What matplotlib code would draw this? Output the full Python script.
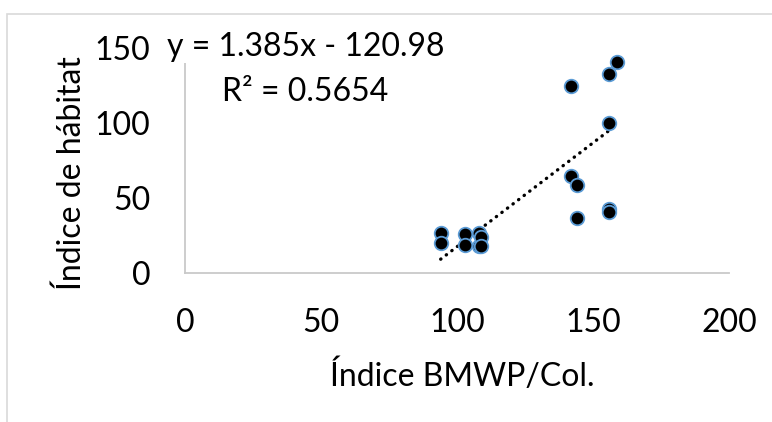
import matplotlib
matplotlib.use("Agg")
import matplotlib.pyplot as plt
from matplotlib.patches import Rectangle
import numpy as np

# datos
bmwp = [94, 94, 103, 103, 108, 108, 109, 109, 142, 142, 144, 144, 156, 156, 156, 156, 159]
habitat = [27, 20, 26, 19, 27, 18, 24, 18, 125, 65, 59, 37, 132.5, 100, 43, 41, 140.5]

pendiente = 1.385
intercepto = -120.98
texto_ecuacion = "y = 1.385x - 120.98"
texto_r2 = "R² = 0.5654"

plt.rcParams['font.family'] = ['Lato', 'DejaVu Sans']

fig = plt.figure(figsize=(7.72, 4.22), dpi=100)
ax = fig.add_axes([185 / 772, 1 - 273 / 422, 544 / 772, 225 / 422])

# marco del gráfico (cortado por la derecha y abajo)
fig.patches.append(Rectangle((7 / 772, -0.2), 1.2, 1.2 - 14 / 422,
                             transform=fig.transFigure, fill=False,
                             edgecolor='#d9d9d9', linewidth=1.2))

# línea de tendencia
xs = np.array([min(bmwp), max(bmwp)])
ax.plot(xs, pendiente * xs + intercepto, color='black', linewidth=2.4,
        linestyle=(0, (0.1, 2.0)), dash_capstyle='round', zorder=2)

ax.scatter(bmwp, habitat, s=95, color='black', edgecolors='#5b9bd5',
           linewidths=1.3, zorder=3)

ax.set_xlim(0, 200)
ax.set_ylim(0, 150)
ax.set_xticks([0, 50, 100, 150, 200])
ax.set_yticks([0, 50, 100, 150])
ax.tick_params(length=0, labelsize=23)
ax.tick_params(axis='x', pad=25)
ax.tick_params(axis='y', pad=25)

for lado in ['top', 'right']:
    ax.spines[lado].set_visible(False)
for lado in ['left', 'bottom']:
    ax.spines[lado].set_color('#c9c9c9')
    ax.spines[lado].set_linewidth(1.3)

ax.set_xlabel("Índice BMWP/Col.", fontsize=23, labelpad=16)
ax.xaxis.label.set_x(0.509)
ax.set_ylabel("Índice de hábitat", fontsize=23)
ax.yaxis.set_label_coords(-0.18, 0.444)

# etiqueta de la tendencia
ax.text(44.3, 150.7, texto_ecuacion, fontsize=23, ha='center', va='center',
        bbox=dict(facecolor='white', edgecolor='none', pad=1), zorder=4,
        clip_on=False)
ax.text(44.3, 120.7, texto_r2, fontsize=23, ha='center', va='center', zorder=4)

fig.savefig("out.png", dpi=100)
